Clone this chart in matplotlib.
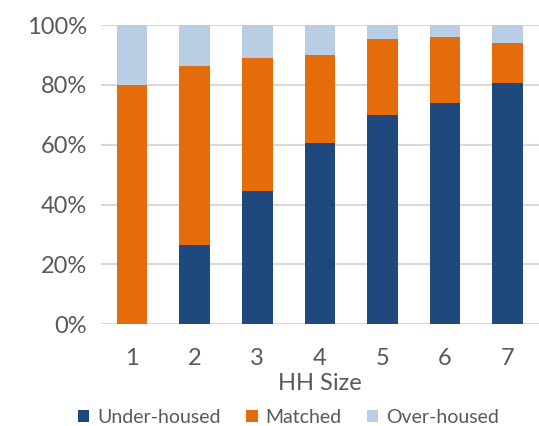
import matplotlib

matplotlib.use("Agg")
import matplotlib.pyplot as plt
from matplotlib.patches import Patch
from matplotlib.ticker import PercentFormatter

hh_size = ["1", "2", "3", "4", "5", "6", "7"]
under_housed = [0.0, 26.4, 44.4, 60.6, 70.0, 73.9, 80.6]
matched = [79.9, 60.0, 44.7, 29.4, 25.5, 22.1, 13.4]
over_housed = [20.1, 13.6, 10.9, 10.0, 4.5, 4.0, 6.0]

series_names = ["Under-housed", "Matched", "Over-housed"]
colors = ["#1f497d", "#e46c0a", "#b9cde5"]
text_gray = "#595959"

plt.rcParams["font.family"] = ["Lato", "DejaVu Sans"]

fig = plt.figure(figsize=(5.39, 4.26), dpi=100, facecolor="white")
ax = fig.add_axes([0.187, 0.239, 0.813, 0.702])

x = range(len(hh_size))
bottom = [0.0] * len(hh_size)
for values, color in zip([under_housed, matched, over_housed], colors):
    ax.bar(x, values, width=0.49, bottom=bottom, color=color, edgecolor="none", zorder=3)
    bottom = [b + v for b, v in zip(bottom, values)]

ax.set_xlim(-0.5, 6.5)
ax.set_ylim(0, 100)
ax.set_yticks([0, 20, 40, 60, 80, 100])
ax.yaxis.set_major_formatter(PercentFormatter(decimals=0))
ax.set_xticks(list(x))
ax.set_xticklabels(hh_size)
ax.grid(axis="y", color="#d9d9d9", linewidth=1.5, zorder=0)
ax.set_axisbelow(True)
for spine in ax.spines.values():
    spine.set_visible(False)
ax.tick_params(axis="both", length=0, labelsize=17, colors=text_gray)
ax.tick_params(axis="x", pad=17)
ax.tick_params(axis="y", pad=10)
ax.set_xlabel("HH Size", fontsize=17, color=text_gray, labelpad=3)

handles = [Patch(facecolor=c, edgecolor="none") for c in colors]
fig.legend(
    handles,
    series_names,
    loc="center",
    bbox_to_anchor=(0.535, 0.021),
    ncol=3,
    frameon=False,
    fontsize=14,
    labelcolor=text_gray,
    handlelength=0.6,
    handleheight=0.6,
    handletextpad=0.4,
    columnspacing=1.3,
)

fig.savefig("out.png", dpi=100, facecolor="white")
